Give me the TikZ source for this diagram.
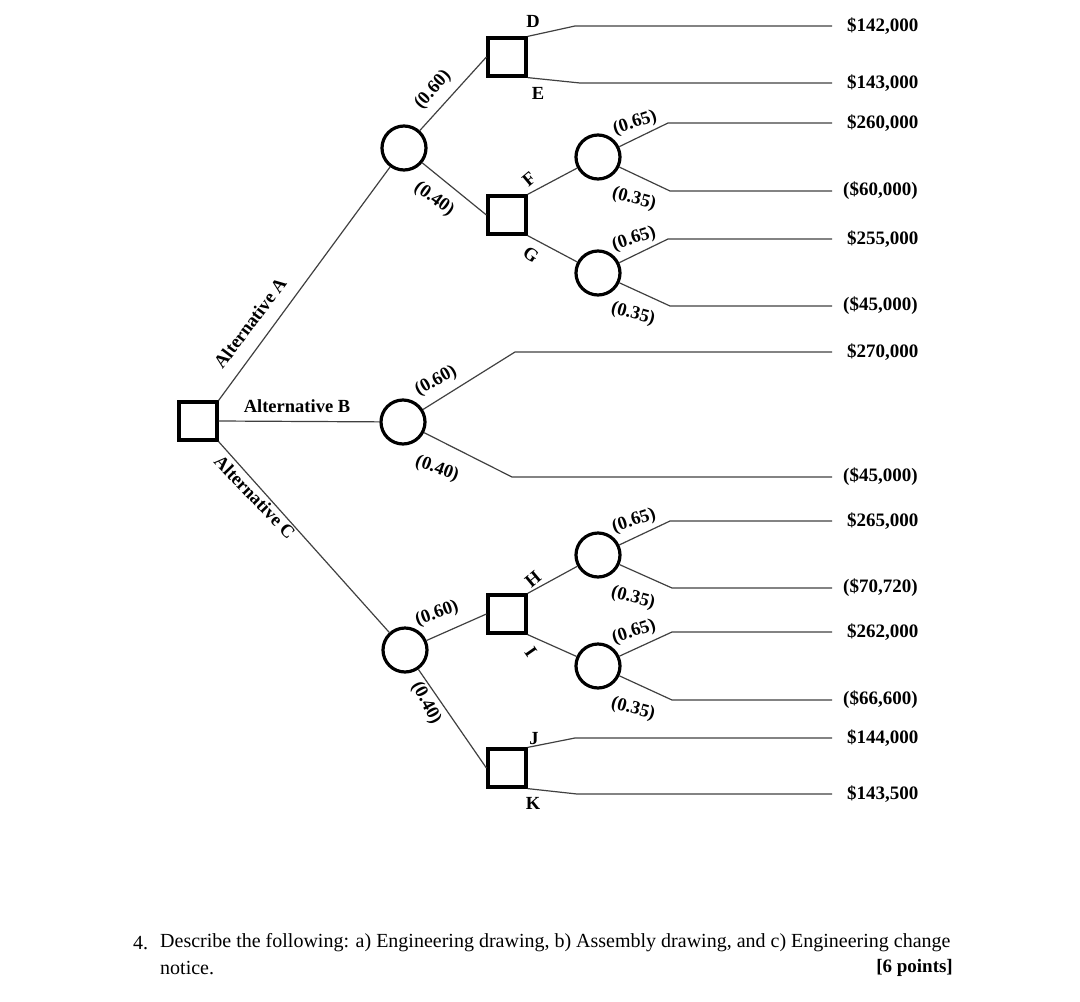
\documentclass[tikz,border=0pt]{standalone}
\usepackage{fontspec}
\setmainfont{Liberation Serif}
\begin{document}
\begin{tikzpicture}[x=1pt,y=-1pt,
  dec/.style={rectangle,draw,line width=3.2pt,minimum size=38pt,inner sep=0pt},
  chance/.style={circle,draw,line width=3.2pt,minimum size=44pt,inner sep=0pt},
  br/.style={line width=1.2pt,draw=black!75},
  lbl/.style={font=\bfseries\fontsize{18.5}{18.5}\selectfont,inner sep=1pt},
  val/.style={font=\bfseries\fontsize{19}{19}\selectfont,inner sep=0pt,anchor=west},
  body/.style={font=\fontsize{20}{20}\selectfont,inner sep=0pt}]
\useasboundingbox (0,0) rectangle (1080,1002);
% decision and chance nodes
\node[dec] (root) at (198,421) {};
\node[chance] (cA) at (404,148) {};
\node[chance] (cB) at (403,422) {};
\node[chance] (cC) at (405,650) {};
\node[dec] (sDE) at (507,57) {};
\node[dec] (sFG) at (507,215) {};
\node[dec] (sHI) at (507,614) {};
\node[dec] (sJK) at (507,768) {};
\node[chance] (cF) at (598,157) {};
\node[chance] (cG) at (598,273) {};
\node[chance] (cH) at (598,555) {};
\node[chance] (cI) at (598,666) {};
% bend points
\coordinate (bD) at (575,26);
\coordinate (bE) at (580,83);
\coordinate (bF1) at (668,123);
\coordinate (bF2) at (670,191);
\coordinate (bG1) at (668,239);
\coordinate (bG2) at (670,306);
\coordinate (bB1) at (515,352);
\coordinate (bB2) at (512,477);
\coordinate (bH1) at (670,521);
\coordinate (bH2) at (672,588);
\coordinate (bI1) at (672,632);
\coordinate (bI2) at (672,700);
\coordinate (bJ) at (575,738);
\coordinate (bK) at (577,794);
% end points
\foreach \n/\y in {D/26,E/83,F1/123,F2/191,G1/239,G2/306,B1/352,B2/477,H1/521,H2/588,I1/632,I2/700,J/738,K/794}
  \coordinate (e\n) at (832,\y);
% values
\node[val] (vD) at (847,26) {\$142,000};
\node[val] (vE) at (847,83) {\$143,000};
\node[val] (vF1) at (847,123) {\$260,000};
\node[val] (vF2) at (843,191) {(\$60,000)};
\node[val] (vG1) at (847,239) {\$255,000};
\node[val] (vG2) at (843,306) {(\$45,000)};
\node[val] (vB1) at (847,352) {\$270,000};
\node[val] (vB2) at (843,477) {(\$45,000)};
\node[val] (vH1) at (847,521) {\$265,000};
\node[val] (vH2) at (843,588) {(\$70,720)};
\node[val] (vI1) at (847,632) {\$262,000};
\node[val] (vI2) at (843,700) {(\$66,600)};
\node[val] (vJ) at (847,738) {\$144,000};
\node[val] (vK) at (847,794) {\$143,500};
% connectors
\draw[br] (root.north east) -- (cA);
\draw[br] (root.east) -- (cB);
\draw[br] (root.south east) -- (cC);
\draw[br] (cA) -- (sDE.west);
\draw[br] (cA) -- (sFG.west);
\draw[br] (cC) -- (sHI.west);
\draw[br] (cC) -- (sJK.west);
\draw[br] (sFG.north east) -- (cF);
\draw[br] (sFG.south east) -- (cG);
\draw[br] (sHI.north east) -- (cH);
\draw[br] (sHI.south east) -- (cI);
\draw[br] (sDE.north east) -- (bD) -- (eD);
\draw[br] (sDE.south east) -- (bE) -- (eE);
\draw[br] (cF) -- (bF1) -- (eF1);
\draw[br] (cF) -- (bF2) -- (eF2);
\draw[br] (cG) -- (bG1) -- (eG1);
\draw[br] (cG) -- (bG2) -- (eG2);
\draw[br] (cB) -- (bB1) -- (eB1);
\draw[br] (cB) -- (bB2) -- (eB2);
\draw[br] (cH) -- (bH1) -- (eH1);
\draw[br] (cH) -- (bH2) -- (eH2);
\draw[br] (cI) -- (bI1) -- (eI1);
\draw[br] (cI) -- (bI2) -- (eI2);
\draw[br] (sJK.north east) -- (bJ) -- (eJ);
\draw[br] (sJK.south east) -- (bK) -- (eK);
% branch labels
\node[lbl,rotate=53] (lA) at (250,323) {Alternative A};
\node[lbl] (lB) at (297,406) {Alternative B};
\node[lbl,rotate=-46] (lC) at (255,497) {Alternative C};
\node[lbl,rotate=48] (pA1) at (433,90) {(0.60)};
\node[lbl,rotate=-36] (pA2) at (434,199) {(0.40)};
\node[lbl] (lD) at (533,21) {D};
\node[lbl] (lE) at (538,93) {E};
\node[lbl,rotate=40] (lF) at (529,179) {F};
\node[lbl,rotate=-35] (lG) at (531,255) {G};
\node[lbl,rotate=18] (pF1) at (635,123) {(0.65)};
\node[lbl,rotate=-15] (pF2) at (634,199) {(0.35)};
\node[lbl,rotate=18] (pG1) at (634,239) {(0.65)};
\node[lbl,rotate=-15] (pG2) at (633,314) {(0.35)};
\node[lbl,rotate=29] (pB1) at (436,381) {(0.60)};
\node[lbl,rotate=-20] (pB2) at (437,469) {(0.40)};
\node[lbl,rotate=20] (pC1) at (437,614) {(0.60)};
\node[lbl,rotate=-62] (pC2) at (426,703) {(0.40)};
\node[lbl,rotate=40] (lH) at (533,579) {H};
\node[lbl,rotate=-55] (lI) at (531,652) {I};
\node[lbl] (lJ) at (534,739) {J};
\node[lbl] (lK) at (533,803) {K};
\node[lbl,rotate=18] (pH1) at (634,521) {(0.65)};
\node[lbl,rotate=-15] (pH2) at (633,598) {(0.35)};
\node[lbl,rotate=18] (pI1) at (634,632) {(0.65)};
\node[lbl,rotate=-15] (pI2) at (633,709) {(0.35)};
% question text
\node[body,anchor=west] (qn) at (133,943) {4.};
\node[body,anchor=west] (q1) at (160,943) {Describe the following: a) Engineering drawing, b) Assembly drawing, and c) Engineering change};
\node[body,anchor=west] (q2) at (160,968) {notice.};
\node[body,anchor=east,font=\bfseries\fontsize{19}{19}\selectfont] (q3) at (953,968) {[6 points]};
\end{tikzpicture}
\end{document}
